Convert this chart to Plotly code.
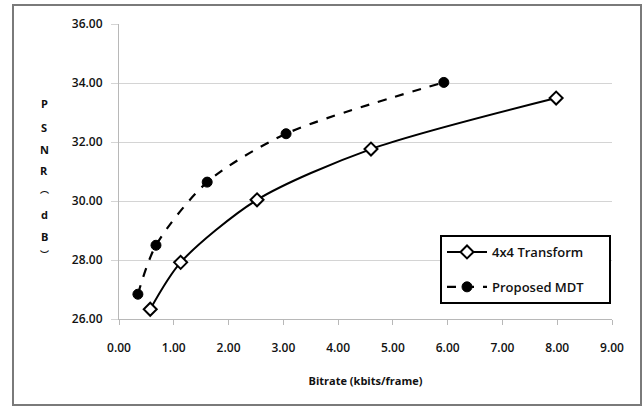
import plotly.graph_objects as go

x_4x4 = [0.57, 1.125, 2.52, 4.60, 7.98]
y_4x4 = [26.33, 27.92, 30.04, 31.76, 33.49]
x_mdt = [0.345, 0.675, 1.61, 3.05, 5.93]
y_mdt = [26.84, 28.50, 30.64, 32.28, 34.02]
x_ticks = [0, 1, 2, 3, 4, 5, 6, 7, 8, 9]
y_ticks = [26, 28, 30, 32, 34, 36]
y_title_chars = ["P", "S", "N", "R", "\ufe35", "d", "B", "\ufe36"]
y_title_pix = [103, 127, 149, 170, 189, 214, 236, 254]

FONT = "Open Sans"
TXT = "#111"
PLOT_TOP, PLOT_BOTTOM, PLOT_LEFT, PLOT_RIGHT = 24, 319, 119, 612
PAD = "\u00a0" * 6

fig = go.Figure()
fig.add_trace(go.Scatter(
    x=x_4x4, y=y_4x4, name="4x4 Transform" + PAD, mode="lines+markers", legendgroup="a",
    line=dict(color="black", width=2, shape="spline", smoothing=0.8),
    marker=dict(symbol="diamond", size=10, color="white", line=dict(color="black", width=2)),
))
fig.add_trace(go.Scatter(
    x=x_mdt, y=y_mdt, name="Proposed MDT" + PAD, mode="lines+markers", legendgroup="b",
    line=dict(color="black", width=2.2, dash="dash", shape="spline", smoothing=0.8),
    marker=dict(symbol="circle", size=10, color="black", line=dict(color="black", width=1)),
))

def py(pix):
    return (PLOT_BOTTOM - pix) / (PLOT_BOTTOM - PLOT_TOP)

def px(pix):
    return (pix - PLOT_LEFT) / (PLOT_RIGHT - PLOT_LEFT)

annotations = []
for ch, yp in zip(y_title_chars, y_title_pix):
    annotations.append(dict(
        xref="paper", yref="paper", x=px(44), y=py(yp), xanchor="center", yanchor="middle",
        text=f"<b>{ch}</b>", showarrow=False,
        font=dict(family=FONT if ch.isascii() else "Noto Sans CJK SC", size=11 if ch.isascii() else 9, color=TXT),
    ))

fig.update_layout(
    width=644, height=412,
    margin=dict(l=PLOT_LEFT, r=644 - PLOT_RIGHT, t=PLOT_TOP, b=412 - PLOT_BOTTOM),
    paper_bgcolor="white", plot_bgcolor="white",
    font=dict(family=FONT, size=12, color=TXT),
    showlegend=True,
    legend=dict(
        x=px(440), y=py(235), xanchor="left", yanchor="top",
        bordercolor="black", borderwidth=2, bgcolor="white",
        font=dict(family=FONT, size=13, color=TXT, weight=600),
        tracegroupgap=15, itemwidth=40,
    ),
    xaxis=dict(
        range=[0, 9], tickvals=x_ticks, ticktext=[f"{v:.2f}" for v in x_ticks],
        showgrid=False, zeroline=False, showline=True, linecolor="#b8b8b8", linewidth=1,
        ticks="outside", ticklen=5, tickcolor="#b8b8b8", ticklabelstandoff=13,
        tickfont=dict(family=FONT, size=12, color=TXT, weight=600),
        title=dict(text="Bitrate (kbits/frame)", font=dict(family=FONT, size=11, color=TXT, weight=700), standoff=21),
    ),
    yaxis=dict(
        range=[26, 36], tickvals=y_ticks, ticktext=[f"{v:.2f}" for v in y_ticks],
        showgrid=True, gridcolor="#d4d4d4", gridwidth=1, zeroline=False,
        showline=True, linecolor="#b8b8b8", linewidth=1,
        ticks="outside", ticklen=7, tickcolor="#d4d4d4", ticklabelstandoff=6,
        tickfont=dict(family=FONT, size=12, color=TXT, weight=600),
    ),
    shapes=[dict(type="rect", xref="paper", yref="paper",
                 x0=px(13), x1=px(641), y0=py(405), y1=py(5),
                 line=dict(color="#7a7a7a", width=2))],
    annotations=annotations,
)

fig.write_html("out.html", config={"displayModeBar": False},
               post_script="document.body.style.margin='0';document.body.style.padding='0';")
